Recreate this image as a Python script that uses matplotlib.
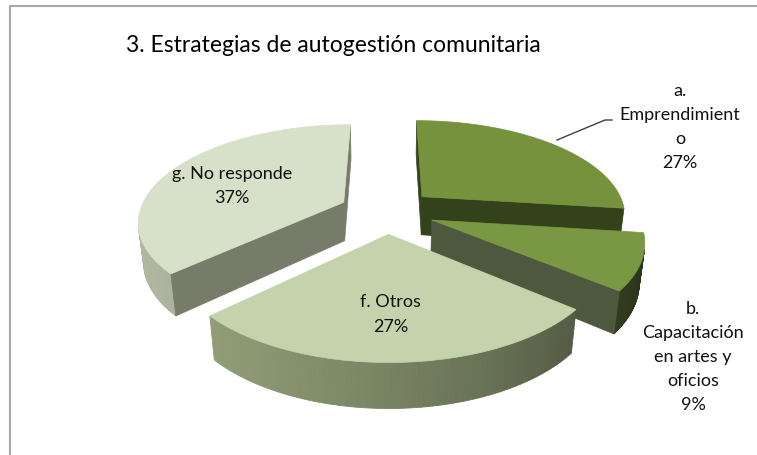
import numpy as np
import matplotlib.pyplot as plt
from matplotlib.patches import Polygon

# datos
labels = ['a.\nEmprendimient\no', 'b.\nCapacitación\nen artes y\noficios', 'f. Otros', 'g. No responde']
values = [27, 9, 27, 37]
top_colors = ['#76923C', '#7A9843', '#C4D3AB', '#D7E0C9']
cut_colors = ['#34421B', '#4E583E', '#6F7860', '#767C69']
wall_colors = [(0.33, 0.40, 0.20), (0.33, 0.40, 0.20), (0.55, 0.60, 0.45), (0.66, 0.68, 0.60)]
title = '3. Estrategias de autogestión comunitaria'

plt.rcParams['font.family'] = ['Lato', 'DejaVu Sans']

# vista 3D (perspectiva)
cx, cy = 387, 212
foc = 981
dist = 4.81
phi = np.radians(27.7)
h = 0.22
explode = 0.235
cphi, sphi = np.cos(phi), np.sin(phi)
cam = np.array([0, -dist * cphi, dist * sphi])


def proj(p):
    p = np.atleast_2d(p)
    x, y, z = p[:, 0], p[:, 1], p[:, 2]
    depth = y * cphi + dist - z * sphi
    return np.column_stack([cx + foc * x / depth, cy - foc * (y * sphi + z * cphi) / depth])


fig = plt.figure(figsize=(7.57, 4.56), dpi=100)
ax = fig.add_axes([0, 0, 1, 1])
ax.set_xlim(0, 757)
ax.set_ylim(456, 0)
ax.axis('off')

# borde del grafico
ax.plot([10, 10, 800], [470, 7, 7], color='#A6A6A6', lw=1.5, solid_capstyle='butt')

# angulos de cada porcion (sentido horario desde las 12)
pct = np.array(values) / np.sum(values)
starts = 90 - 360 * np.concatenate([[0], np.cumsum(pct)[:-1]])
slices = []
for i in range(len(values)):
    hi = np.radians(starts[i])
    lo = hi - np.radians(360 * pct[i])
    mid = (lo + hi) / 2
    off = explode * np.array([np.cos(mid), np.sin(mid), 0])
    slices.append((i, lo, hi, mid, off))

# de atras hacia adelante
order = sorted(slices, key=lambda s: -np.sin(s[3]))

for i, lo, hi, mid, off in order:
    # pared exterior
    ts = np.linspace(lo, hi, 80)
    for t0, t1 in zip(ts[:-1], ts[1:]):
        tm = (t0 + t1) / 2
        n = np.array([np.cos(tm), np.sin(tm), 0])
        if np.dot(off + n - cam, n) < 0:
            pts = np.array([off + [np.cos(t0), np.sin(t0), 0], off + [np.cos(t1), np.sin(t1), 0],
                            off + [np.cos(t1), np.sin(t1), -h], off + [np.cos(t0), np.sin(t0), -h]])
            f = 0.75 + 0.3 * np.cos(tm - np.radians(200))
            col = np.clip(np.array(wall_colors[i]) * f, 0, 1)
            ax.add_patch(Polygon(proj(pts), closed=True, fc=col, ec=col, lw=0.6))
    # caras de corte
    for ang, n in [(lo, np.array([np.sin(lo), -np.cos(lo), 0])),
                   (hi, np.array([-np.sin(hi), np.cos(hi), 0]))]:
        if np.dot(off - cam, n) < 0:
            e = np.array([np.cos(ang), np.sin(ang), 0])
            pts = np.array([off, off + e, off + e + [0, 0, -h], off + [0, 0, -h]])
            ax.add_patch(Polygon(proj(pts), closed=True, fc=cut_colors[i], ec=cut_colors[i], lw=0.5))
    # cara superior
    arc = np.column_stack([np.cos(ts), np.sin(ts), np.zeros_like(ts)]) + off
    pts = np.vstack([off, arc])
    ax.add_patch(Polygon(proj(pts), closed=True, fc=top_colors[i], ec=top_colors[i], lw=0.5))

# etiquetas
txt = dict(fontsize=13, color='#111111', ha='center', va='center', linespacing=1.62)
for i, lo, hi, mid, off in slices:
    lab = '%s\n%d%%' % (labels[i], values[i])
    if values[i] >= 20 and np.sin(mid) < 0.5:
        p = proj(off + 0.63 * np.array([np.cos(mid), np.sin(mid), 0]))[0]
        ax.text(p[0] - 3, p[1] + 5, lab, **txt)

ax.text(680, 127, '%s\n%d%%' % (labels[0], values[0]), **txt)
ax.text(693, 357, '%s\n%d%%' % (labels[1], values[1]), **txt)
ax.plot([557, 605, 612], [141, 121, 121], color='#404040', lw=1)

ax.text(333, 45, title, fontsize=16.5, ha='center', va='center', color='#000000')

fig.savefig('out.png', dpi=100)
